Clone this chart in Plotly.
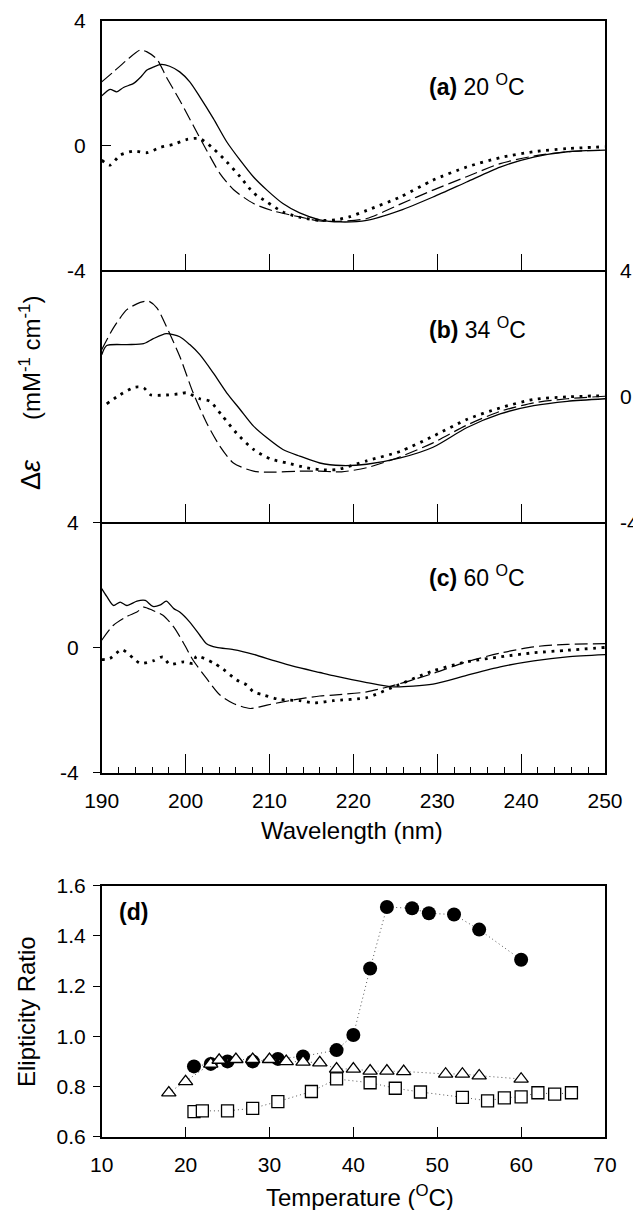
import plotly.graph_objects as go

# ---------------- CD spectra (Δε, mM^-1 cm^-1) ----------------
# (a) 20 °C
wl_a_solid = [190, 191.0, 191.8, 192.6, 193.8, 194.6, 195.4, 196.2, 197.1, 198.1, 199.3, 200.5,
              201.7, 203.3, 204.9, 206.5, 208.1, 209.7, 211.6, 213.6, 216.0, 218.4, 221.6, 225.6,
              229.5, 233.5, 237.5, 241.5, 245.5, 250]
de_a_solid = [1.59, 1.80, 1.72, 1.86, 1.99, 2.18, 2.42, 2.52, 2.60, 2.54, 2.36, 2.04,
              1.56, 0.87, 0.12, -0.47, -1.01, -1.43, -1.86, -2.16, -2.38, -2.45, -2.40, -2.08,
              -1.65, -1.17, -0.69, -0.37, -0.20, -0.15]
wl_a_dash = [190, 191.4, 193.0, 194.6, 195.4, 196.6, 197.7, 199.3, 200.9, 202.5, 204.1, 205.7,
             208.1, 210.5, 213.6, 216.0, 218.4, 221.6, 225.6, 229.5, 233.5, 237.5, 241.5, 245.5, 250]
de_a_dash = [2.04, 2.36, 2.74, 3.06, 3.00, 2.76, 2.20, 1.45, 0.65, -0.15, -0.90, -1.41,
             -1.86, -2.10, -2.29, -2.42, -2.43, -2.34, -1.88, -1.43, -1.00, -0.58, -0.34, -0.20, -0.15]
wl_a_dot = [190, 191.0, 192.2, 193.8, 195.4, 197.0, 198.6, 200.1, 201.7, 203.3, 204.9, 206.5,
            208.1, 209.7, 211.6, 213.6, 216.0, 218.0, 219.6, 221.6, 225.6, 229.5, 233.5, 237.5,
            241.5, 245.5, 250]
de_a_dot = [-0.47, -0.63, -0.31, -0.18, -0.23, -0.06, 0.04, 0.19, 0.22, -0.10, -0.52, -1.00,
            -1.52, -1.81, -2.13, -2.30, -2.40, -2.38, -2.28, -2.08, -1.65, -1.11, -0.69, -0.39,
            -0.20, -0.10, -0.04]

# (b) 34 °C
wl_b_solid = [190, 190.6, 193.0, 195.0, 196.1, 197.7, 199.3, 200.5, 201.7, 203.3, 204.9, 206.5,
              208.1, 209.7, 211.6, 213.6, 216.0, 218.6, 221.6, 225.6, 229.5, 233.5, 237.5, 241.5,
              245.5, 250]
de_b_solid = [1.32, 1.61, 1.64, 1.67, 1.82, 1.99, 1.89, 1.64, 1.32, 0.74, 0.11, -0.42,
              -0.95, -1.32, -1.69, -1.90, -2.12, -2.20, -2.16, -1.96, -1.62, -1.00, -0.56, -0.30,
              -0.16, -0.08]
wl_b_dash = [190, 191.4, 193.0, 194.6, 195.6, 196.6, 197.7, 199.3, 200.9, 202.5, 204.1, 205.7,
             208.1, 210.5, 213.6, 216.0, 218.6, 221.6, 225.6, 229.5, 233.5, 237.5, 241.5, 245.5, 250]
de_b_dash = [1.48, 2.17, 2.75, 2.98, 3.02, 2.80, 2.22, 1.27, 0.11, -0.84, -1.59, -2.12,
             -2.38, -2.41, -2.38, -2.38, -2.40, -2.27, -1.92, -1.48, -0.92, -0.48, -0.21, -0.08, 0.0]
wl_b_dot = [190.6, 192.2, 194.0, 195.0, 195.8, 197.7, 199.3, 200.1, 201.7, 202.9, 204.4, 206.1,
            208.1, 210.1, 212.1, 214.4, 216.0, 218.0, 221.6, 225.6, 229.5, 233.5, 237.5, 241.5,
            245.5, 250]
de_b_dot = [-0.24, 0.05, 0.29, 0.27, 0.05, 0.04, 0.08, 0.11, -0.08, -0.16, -0.63, -1.18,
            -1.69, -1.99, -2.12, -2.27, -2.33, -2.33, -2.05, -1.75, -1.27, -0.74, -0.37, -0.10,
            -0.02, 0.02]

# (c) 60 °C
wl_c_solid = [190, 190.6, 191.4, 192.2, 193.0, 194.2, 195.2, 196.1, 197.0, 197.7, 198.6, 199.3,
              200.5, 201.7, 202.5, 203.7, 205.7, 208.1, 210.4, 212.8, 216.0, 217.6, 221.6, 224.8,
              229.5, 233.5, 237.5, 241.5, 245.5, 250]
de_c_solid = [1.88, 1.63, 1.34, 1.45, 1.34, 1.48, 1.50, 1.31, 1.36, 1.48, 1.24, 1.13,
              0.81, 0.39, 0.12, 0.0, -0.07, -0.22, -0.41, -0.60, -0.80, -0.90, -1.12, -1.26,
              -1.17, -0.89, -0.62, -0.43, -0.30, -0.23]
wl_c_dash = [190, 191.4, 193.0, 194.2, 195.0, 196.1, 197.3, 198.6, 199.8, 200.9, 202.5, 204.1,
             205.7, 207.7, 209.7, 212.8, 216.0, 217.6, 221.6, 225.6, 229.5, 233.5, 237.5, 241.5,
             245.5, 250]
de_c_dash = [0.23, 0.71, 0.99, 1.13, 1.29, 1.18, 1.03, 0.65, 0.12, -0.41, -0.99, -1.52,
             -1.79, -1.95, -1.84, -1.68, -1.55, -1.52, -1.42, -1.15, -0.83, -0.46, -0.18, 0.02,
             0.10, 0.12]
wl_c_dot = [190, 191.0, 192.4, 193.8, 194.6, 196.1, 197.3, 198.1, 199.8, 200.9, 201.3, 203.3,
            204.5, 206.1, 207.3, 208.1, 209.3, 211.2, 213.6, 215.4, 217.6, 221.6, 224.8, 229.5,
            233.5, 237.5, 241.5, 245.5, 250]
de_c_dot = [-0.39, -0.35, -0.07, -0.35, -0.51, -0.43, -0.30, -0.54, -0.46, -0.51, -0.28, -0.49,
            -0.70, -1.04, -1.20, -1.42, -1.52, -1.66, -1.70, -1.77, -1.70, -1.60, -1.26, -0.75,
            -0.46, -0.30, -0.17, -0.09, 0.0]

# Δε axis ticks (plain hyphen for the minus sign)
de_tickvals = [-4, 0, 4]
de_ticktext = ["-4", "0", "4"]

# ---------------- (d) ellipticity ratio vs temperature ----------------
t_circle = [21, 23, 25, 28, 31, 34, 38, 40, 42, 44, 47, 49, 52, 55, 60]
r_circle = [0.88, 0.89, 0.90, 0.90, 0.91, 0.92, 0.945, 1.005, 1.27, 1.515, 1.51, 1.49, 1.485, 1.425, 1.305]
t_tri = [18, 20, 23, 24, 26, 28, 30, 32, 34, 36, 38, 40, 42, 44, 46, 51, 53, 55, 60]
r_tri = [0.775, 0.82, 0.89, 0.905, 0.908, 0.908, 0.908, 0.90, 0.898, 0.895, 0.87, 0.87, 0.862,
         0.862, 0.86, 0.85, 0.85, 0.843, 0.83]
t_sq = [21, 22, 25, 28, 31, 35, 38, 42, 45, 48, 53, 56, 58, 60, 62, 64, 66]
r_sq = [0.70, 0.703, 0.703, 0.713, 0.74, 0.78, 0.83, 0.815, 0.793, 0.778, 0.757, 0.743, 0.755,
        0.759, 0.775, 0.77, 0.775]

W, H = 633, 1210
FONT = "Arial, Liberation Sans, sans-serif"


def fx(px):
    return px / W


def fy(py):
    return 1 - py / H


X0, X1 = 101.7, 605.0
PANELS = {  # top, bottom in pixels
    "a": (20.7, 270.3),
    "b": (270.3, 522.2),
    "c": (522.2, 772.7),
    "d": (885.7, 1136.7),
}

fig = go.Figure()

solid = dict(color="black", width=1.3)
dashed = dict(color="black", width=1.2, dash="13px,5px")
dotted = dict(color="black", width=2.8, dash="2.8px,5.6px")

spectra = [
    ("x", "y", wl_a_solid, de_a_solid, wl_a_dash, de_a_dash, wl_a_dot, de_a_dot),
    ("x2", "y2", wl_b_solid, de_b_solid, wl_b_dash, de_b_dash, wl_b_dot, de_b_dot),
    ("x3", "y3", wl_c_solid, de_c_solid, wl_c_dash, de_c_dash, wl_c_dot, de_c_dot),
]
for xa, ya, ws, ds, wd, dd, wt, dt in spectra:
    for wv, dv, ln in ((wt, dt, dotted), (wd, dd, dashed), (ws, ds, solid)):
        fig.add_trace(go.Scatter(x=wv, y=dv, mode="lines", line=dict(shape="spline", smoothing=0.7, **ln),
                                 xaxis=xa, yaxis=ya, showlegend=False, hoverinfo="skip"))

conn = dict(color="#555555", width=1, dash="1px,3px")
fig.add_trace(go.Scatter(x=t_sq, y=r_sq, mode="lines+markers", line=conn,
                         marker=dict(symbol="square", size=12, color="white",
                                     line=dict(color="black", width=1.3)),
                         xaxis="x4", yaxis="y4", showlegend=False))
fig.add_trace(go.Scatter(x=t_circle, y=r_circle, mode="lines+markers", line=conn,
                         marker=dict(symbol="circle", size=14, color="black",
                                     line=dict(color="black", width=0)),
                         xaxis="x4", yaxis="y4", showlegend=False))
fig.add_trace(go.Scatter(x=t_tri, y=r_tri, mode="lines+markers", line=conn,
                         marker=dict(symbol="triangle-up", size=12.5, color="white",
                                     line=dict(color="black", width=1.3)),
                         xaxis="x4", yaxis="y4", showlegend=False))

tickfont = dict(family=FONT, size=21, color="black")
xdom = [fx(X0), fx(X1)]


def ydom(key):
    top, bot = PANELS[key]
    return [fy(bot), fy(top)]


def axstyle(mirror=True):
    return dict(showline=True, linecolor="black", linewidth=1.5, mirror=mirror, automargin=False,
                showgrid=False, zeroline=False, tickcolor="black", tickwidth=1.3)


de_ticks = dict(range=[-4, 4], tickvals=de_tickvals, ticktext=de_ticktext, tickfont=tickfont)

layout = dict(
    width=W, height=H, margin=dict(l=0, r=0, t=0, b=0, pad=0, autoexpand=False),
    paper_bgcolor="white", plot_bgcolor="white",
    font=dict(family=FONT, color="black"),
    showlegend=False,
    xaxis=dict(domain=xdom, anchor="y", range=[190, 250], dtick=10, ticks="inside", ticklen=17,
               showticklabels=False, **axstyle(True)),
    yaxis=dict(domain=ydom("a"), anchor="x", ticks="inside", ticklen=10, ticklabelstandoff=10,
               **de_ticks, **axstyle(True)),
    xaxis2=dict(domain=xdom, anchor="y2", range=[190, 250], dtick=10, ticks="inside", ticklen=18,
                showticklabels=False, **axstyle(False)),
    yaxis2=dict(domain=ydom("b"), anchor="x2", side="right", ticks="", ticklabelstandoff=9,
                **de_ticks, **axstyle(True)),
    xaxis3=dict(domain=xdom, anchor="y3", range=[190, 250], dtick=10, ticks="inside", ticklen=19,
                tickfont=tickfont, ticklabelstandoff=8,
                minor=dict(dtick=2, ticks="inside", ticklen=6, tickcolor="black", tickwidth=1.2),
                **axstyle(False)),
    yaxis3=dict(domain=ydom("c"), anchor="x3", ticks="outside", ticklen=7, ticklabelstandoff=10,
                **de_ticks, **axstyle(True)),
    xaxis4=dict(domain=xdom, anchor="y4", range=[10, 70], dtick=10, ticks="inside", ticklen=10,
                tickfont=tickfont, ticklabelstandoff=8, **axstyle(True)),
    yaxis4=dict(domain=ydom("d"), anchor="x4", range=[0.6, 1.6], dtick=0.2, tickformat=".1f",
                ticks="outside", ticklen=7, tickfont=tickfont, ticklabelstandoff=3, **axstyle(True)),
)
fig.update_layout(**layout)

title_font = dict(family=FONT, size=24, color="black")
label_font = dict(family=FONT, size=23, color="black")


def note(text, px, py, font, xanchor="center", angle=0):
    fig.add_annotation(text=text, x=fx(px), y=fy(py), xref="paper", yref="paper",
                       xanchor=xanchor, yanchor="middle", showarrow=False, font=font,
                       textangle=angle)


note("<b>(a)</b> 20 <sup>O</sup>C", 427, 85, label_font, xanchor="left")
note("<b>(b)</b> 34 <sup>O</sup>C", 427, 328, label_font, xanchor="left")
note("<b>(c)</b> 60 <sup>O</sup>C", 427, 576, label_font, xanchor="left")
note("<b>(d)</b>", 117, 912, label_font, xanchor="left")
note("Wavelength (nm)", 352, 830, title_font)
note("Temperature (<sup>O</sup>C)", 360, 1196, title_font)
note("<span style='font-size:27px'>Δ<i>ε</i></span>&nbsp;&nbsp;&nbsp;&nbsp;&nbsp;&nbsp;"
     "(mM<sup>-1</sup> cm<sup>-1</sup>)", 31, 393, title_font, angle=-90)
note("Elipticity Ratio", 27, 1012, title_font, angle=-90)

fig.write_html("out.html")
